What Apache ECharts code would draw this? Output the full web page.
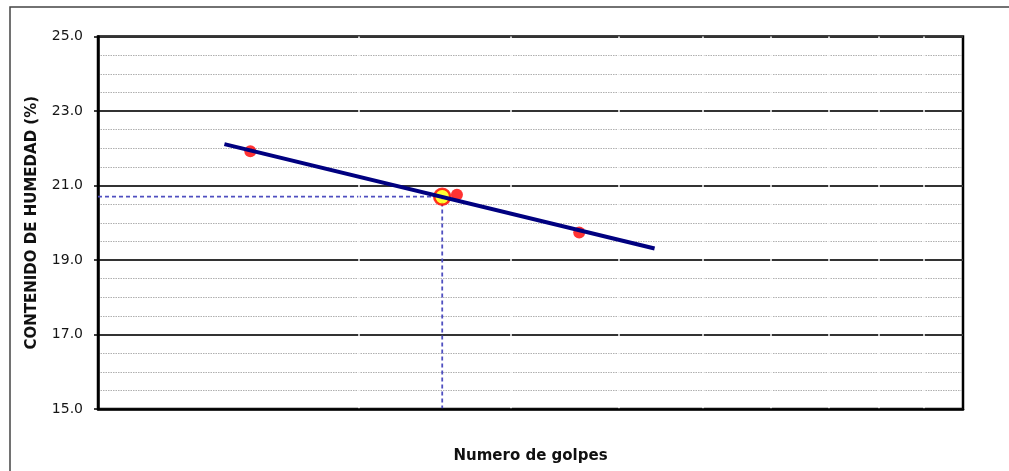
<!DOCTYPE html>
<html>
<head>
<meta charset="utf-8">
<script src="https://cdn.jsdelivr.net/npm/echarts@6/dist/echarts.min.js"></script>
<style>
  html, body { margin: 0; padding: 0; background: #fff; }
  #chart { width: 1009px; height: 471px; }
</style>
</head>
<body>
<div id="chart"></div>
<script>
// Ensayo de límite líquido: humedad contra número de golpes (escala logarítmica)
const golpes = [15, 26, 36];
const humedad = [21.92, 20.75, 19.74];

// Recta de ajuste (semilogarítmica)
const ajusteGolpes = [14, 44];
const ajusteHumedad = [22.11, 19.31];

// Límite líquido leído a 25 golpes
const limiteGolpes = 25;
const limiteHumedad = 20.70;

// Divisiones intermedias del eje logarítmico
const divisionesX = [20, 30, 40, 50, 60, 70, 80, 90];

const xMin = 10, xMax = 100;
const yMin = 15, yMax = 25, yPaso = 2;

const chart = echarts.init(document.getElementById('chart'));

const fuente = 'DejaVu Sans, Liberation Sans, Arial, sans-serif';

chart.setOption({
  animation: false,
  backgroundColor: '#fff',
  graphic: [{
    type: 'rect',
    shape: { x: 10, y: 7, width: 1200, height: 700 },
    style: { fill: 'none', stroke: '#444', lineWidth: 1.5 },
    z: 0
  }],
  grid: {
    left: 98, right: 46, top: 36.5, bottom: 62,
    show: true, borderColor: '#000', borderWidth: 2.5, backgroundColor: 'transparent'
  },
  xAxis: {
    type: 'log', logBase: 10, min: xMin, max: xMax,
    z: 5,
    name: 'Numero de golpes',
    nameLocation: 'middle',
    nameGap: 40,
    nameTextStyle: { fontFamily: fuente, fontWeight: 'bold', fontSize: 15, color: '#111' },
    axisLine: { show: true, lineStyle: { color: '#000', width: 2.5 } },
    axisTick: { show: false },
    axisLabel: { show: false },
    splitLine: { show: false },
    minorTick: { show: false },
    minorSplitLine: { show: false }
  },
  yAxis: {
    type: 'value', min: yMin, max: yMax, interval: yPaso,
    name: 'CONTENIDO DE HUMEDAD (%)',
    nameLocation: 'middle',
    nameGap: 58,
    nameTextStyle: { fontFamily: fuente, fontWeight: 'bold', fontSize: 15, color: '#111' },
    axisLine: { show: true, lineStyle: { color: '#000', width: 2.5 } },
    axisTick: { show: true, length: 4, lineStyle: { color: '#000', width: 1.5 } },
    axisLabel: {
      margin: 15, fontFamily: fuente, fontSize: 14, color: '#151515',
      formatter: v => v.toFixed(1)
    },
    splitLine: { show: true, lineStyle: { color: '#333', width: 1.8 } },
    minorTick: { show: false, splitNumber: 4 },
    minorSplitLine: { show: true, lineStyle: { color: '#b0b0b0', width: 1, type: [1.5, 1] } }
  },
  series: [
    {
      // separaciones blancas de las divisiones logarítmicas
      type: 'line',
      data: [],
      z: 1,
      silent: true,
      markLine: {
        silent: true,
        symbol: 'none',
        label: { show: false },
        lineStyle: { color: '#fff', width: 1.5, type: 'solid' },
        data: divisionesX.map(v => [{ coord: [v, yMin] }, { coord: [v, yMax] }])
      }
    },
    {
      // lectura del límite líquido
      type: 'line',
      data: [[xMin, limiteHumedad], [limiteGolpes, limiteHumedad], [limiteGolpes, yMin]],
      showSymbol: false,
      symbol: 'none',
      lineStyle: { color: '#4f4fc0', width: 1.8, type: [4, 3] },
      z: 2
    },
    {
      type: 'scatter',
      data: golpes.map((g, i) => [g, humedad[i]]),
      symbol: 'circle',
      symbolSize: 12,
      itemStyle: { color: '#ff0000' },
      z: 3
    },
    {
      type: 'scatter',
      data: [[limiteGolpes, limiteHumedad]],
      symbol: 'circle',
      symbolSize: 16,
      itemStyle: { color: '#ffff00', borderColor: '#ff0000', borderWidth: 2.5 },
      z: 4
    },
    {
      type: 'line',
      data: ajusteGolpes.map((g, i) => [g, ajusteHumedad[i]]),
      showSymbol: false,
      symbol: 'none',
      lineStyle: { color: '#000080', width: 4 },
      z: 6
    }
  ]
});
</script>
</body>
</html>
